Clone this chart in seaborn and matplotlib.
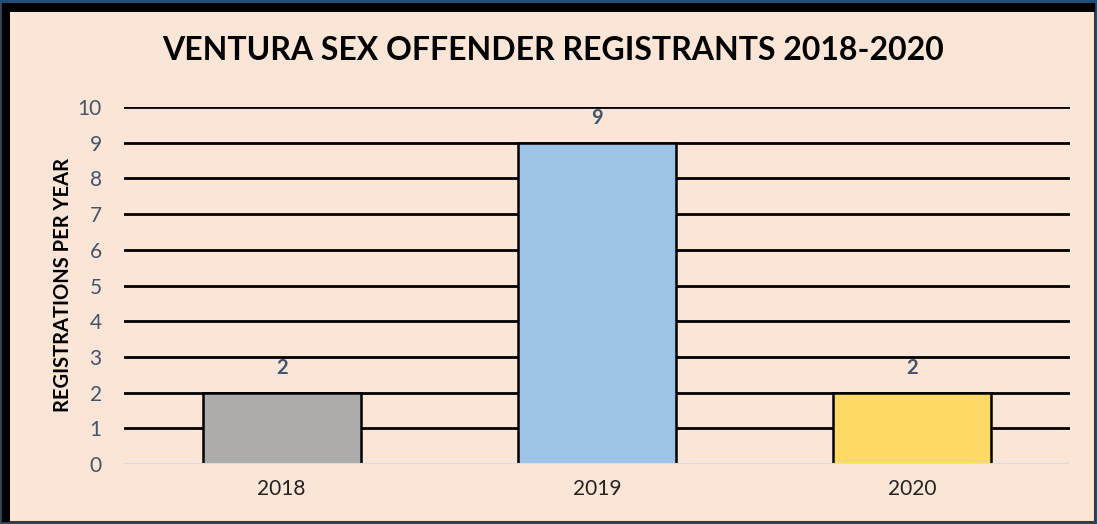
import pandas as pd
import seaborn as sns
import matplotlib.pyplot as plt
from matplotlib.patches import Rectangle

years = ["2018", "2019", "2020"]
registrations = [2, 9, 2]
bar_colors = ["#AEABAB", "#9DC3E6", "#FFD966"]
y_ticks = list(range(0, 11))

df = pd.DataFrame({"year": years, "count": registrations})

sns.set_theme(style="white")
plt.rcParams["font.family"] = ["Lato", "DejaVu Sans"]

W, H = 1097, 524
fig = plt.figure(figsize=(W / 100, H / 100), dpi=100)
fig.patch.set_facecolor("#1F4E79")

# inner panel: thin dark edge, thick black frame on left and top
fig.patches.append(Rectangle((2 / W, 2 / H), 1093 / W, 517 / H,
                             transform=fig.transFigure, facecolor="#FBE5D6",
                             edgecolor="#3A3A3A", linewidth=1.5, zorder=-10))
fig.patches.append(Rectangle((2 / W, 2 / H), 8 / W, 517 / H,
                             transform=fig.transFigure, facecolor="black",
                             linewidth=0, zorder=-9))
fig.patches.append(Rectangle((2 / W, (H - 12) / H), 1093 / W, 9 / H,
                             transform=fig.transFigure, facecolor="black",
                             linewidth=0, zorder=-9))

ax = fig.add_axes([124 / W, 60 / H, 946 / W, 357 / H])
ax.set_facecolor("none")

sns.barplot(data=df, x="year", y="count", hue="year", palette=bar_colors,
            saturation=1, width=0.5, edgecolor="black", linewidth=1.8,
            legend=False, zorder=3, ax=ax)

ax.set_ylim(0, 10)
ax.set_yticks(y_ticks)
for t in y_ticks[1:]:
    ax.axhline(t, color="black", linewidth=2, zorder=1)
ax.axhline(0, color="#D6DCE5", linewidth=1.5, zorder=4)

for i, v in enumerate(registrations):
    ax.text(i, v + 0.42, str(v), ha="center", va="bottom", fontsize=14.5,
            fontweight="bold", color="#44546A")

for s in ax.spines.values():
    s.set_visible(False)
ax.tick_params(axis="y", labelsize=15, labelcolor="#44546A", length=0, pad=16)
ax.tick_params(axis="x", labelsize=15, labelcolor="#222222", length=0, pad=11)
ax.set_xlabel("")
ax.set_ylabel("REGISTRATIONS PER YEAR", fontsize=14.5, fontweight="bold",
              color="black", labelpad=3)

fig.text(553 / W, 474 / H, "VENTURA SEX OFFENDER REGISTRANTS 2018-2020",
         ha="center", va="center", fontsize=23, fontweight="bold", color="black")

fig.savefig("out.png", dpi=100, facecolor=fig.get_facecolor())
